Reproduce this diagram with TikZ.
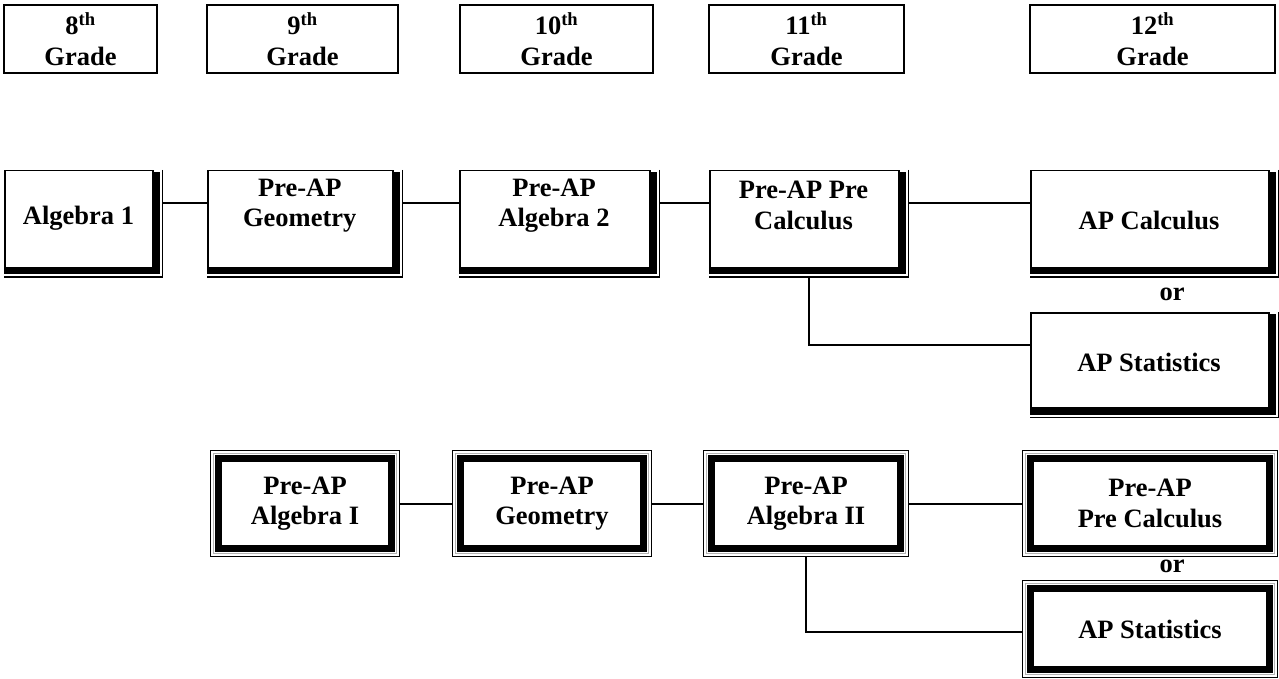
\documentclass[tikz,border=0pt]{standalone}
\usepackage{fontspec}
\setmainfont{Liberation Serif}
\begin{document}
\begin{tikzpicture}[x=1pt,y=-1pt,
  txt/.style={font=\fontsize{26.5}{30.5}\selectfont\bfseries, align=center, inner sep=0pt},
  grade/.style={txt, draw, line width=2pt},
  conn/.style={line width=2pt},
  shbox/.style={inner sep=0pt, path picture={
    \draw[line width=1.5pt] ([shift={(0.75,0.75)}]path picture bounding box.north west) rectangle ([shift={(-10,-10)}]path picture bounding box.south east);
    \fill ([shift={(-10.5,2)}]path picture bounding box.north east) rectangle ([shift={(-3.5,-3.5)}]path picture bounding box.south east);
    \fill ([shift={(0,-10.5)}]path picture bounding box.south west) rectangle ([shift={(-3.5,-3.5)}]path picture bounding box.south east);
    \draw[line width=1.5pt] ([shift={(-0.75,0)}]path picture bounding box.north east) -- ([shift={(-0.75,-0.75)}]path picture bounding box.south east) -- ([shift={(0,-0.75)}]path picture bounding box.south west);
  }},
  dbl/.style={txt, draw, line width=1.2pt, path picture={
    \draw[gray!60, line width=1pt] ([shift={(2.6,2.6)}]path picture bounding box.north west) rectangle ([shift={(-2.6,-2.6)}]path picture bounding box.south east);
    \draw[line width=7.5pt] ([shift={(8.2,8.2)}]path picture bounding box.north west) rectangle ([shift={(-8.2,-8.2)}]path picture bounding box.south east);
  }}
]
\useasboundingbox (0,0) rectangle (1279,679);

% grade headers
\node[grade, minimum width=153pt, minimum height=68pt] (g8)  at (80.5,39)   {8\textsuperscript{th}\\Grade};
\node[grade, minimum width=191pt, minimum height=68pt] (g9)  at (302.5,39)  {9\textsuperscript{th}\\Grade};
\node[grade, minimum width=193pt, minimum height=68pt] (g10) at (556.5,39)  {10\textsuperscript{th}\\Grade};
\node[grade, minimum width=195pt, minimum height=68pt] (g11) at (806.5,39)  {11\textsuperscript{th}\\Grade};
\node[grade, minimum width=245pt, minimum height=68pt] (g12) at (1152.5,39) {12\textsuperscript{th}\\Grade};

% row 1 (shadowed boxes)
\node[shbox, minimum width=159pt, minimum height=107.5pt] (alg1) at (83.5,223.75) {};
\node[shbox, minimum width=196pt, minimum height=107.5pt] (geo1) at (305,223.75) {};
\node[shbox, minimum width=201pt, minimum height=107.5pt] (alg2) at (559.5,223.75) {};
\node[shbox, minimum width=200pt, minimum height=107.5pt] (pc1)  at (809,223.75) {};
\node[shbox, minimum width=249pt, minimum height=107.5pt] (apc)  at (1154.5,223.75) {};
\node[shbox, minimum width=249pt, minimum height=106pt]   (aps1) at (1154.5,365) {};

\node[txt] (alg1t) at (78.5,218)   {Algebra 1};
\node[txt] (geo1t) at (299.75,205.5) {Pre-AP\\Geometry};
\node[txt] (alg2t) at (554,205.5)  {Pre-AP\\Algebra 2};
\node[txt] (pc1t)  at (803.5,205.5) {Pre-AP Pre\\Calculus};
\node[txt] (apct)  at (1149,220)   {AP Calculus};
\node[txt] (aps1t) at (1149,362)   {AP Statistics};
\node[txt] (or1)   at (1172,294)   {or};

% row 2 (double framed boxes)
\node[dbl, minimum width=189pt, minimum height=106pt] (alg1b) at (305,503.5)  {Pre-AP\\Algebra I};
\node[dbl, minimum width=199pt, minimum height=106pt] (geo2)  at (552,503.5)  {Pre-AP\\Geometry};
\node[dbl, minimum width=205pt, minimum height=106pt] (alg2b) at (806,503.5)  {Pre-AP\\Algebra II};
\node[dbl, minimum width=255pt, minimum height=106pt] (pc2)   at (1150,503.5) {Pre-AP\\Pre Calculus};
\node[dbl, minimum width=255pt, minimum height=97pt]  (aps2)  at (1150,629)   {AP Statistics};
\node[txt] (or2) at (1172,566) {or};

% connectors
\coordinate (r1) at (0,203);
\coordinate (r1b) at (0,345);
\coordinate (r2) at (0,503.5);
\coordinate (r2b) at (0,632);
\draw[conn] (alg1.east |- r1) -- (geo1.west |- r1);
\draw[conn] (geo1.east |- r1) -- (alg2.west |- r1);
\draw[conn] (alg2.east |- r1) -- (pc1.west |- r1);
\draw[conn] (pc1.east |- r1) -- (apc.west |- r1);
\draw[conn] (pc1.south) |- (aps1.west |- r1b);

\draw[conn] (alg1b.east |- r2) -- (geo2.west |- r2);
\draw[conn] (geo2.east |- r2) -- (alg2b.west |- r2);
\draw[conn] (alg2b.east |- r2) -- (pc2.west |- r2);
\draw[conn] (alg2b.south) |- (aps2.west |- r2b);
\end{tikzpicture}
\end{document}
